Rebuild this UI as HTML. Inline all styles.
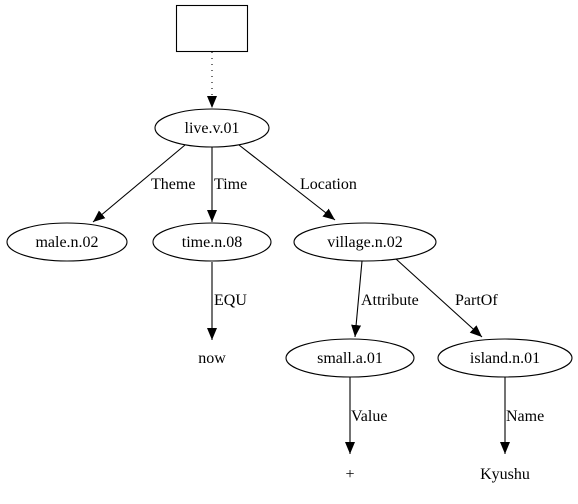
<!DOCTYPE html>
<html><head><style>body{margin:0;background:#fff}svg{display:block}text{font-family:"Liberation Serif",serif;font-size:16px}</style></head>
<body>
<svg width="578" height="504" viewBox="0 0 578 504" xmlns="http://www.w3.org/2000/svg">
<defs><marker id="a" markerWidth="13" markerHeight="12" refX="12" refY="6" orient="auto" markerUnits="userSpaceOnUse"><path d="M0,1 L12,6 L0,11 Z" fill="#000"/></marker></defs>
<g fill="none" stroke="#000" stroke-width="1.1">
<rect x="176.5" y="5.5" width="71" height="46"/>
<line x1="212" y1="52" x2="212" y2="108" stroke-dasharray="1,5" marker-end="url(#a)"/>
<ellipse cx="212" cy="128" rx="57" ry="19"/>
<ellipse cx="67" cy="242" rx="60" ry="19"/>
<ellipse cx="212" cy="242" rx="59" ry="19"/>
<ellipse cx="365" cy="242" rx="71" ry="19"/>
<ellipse cx="350" cy="358" rx="64" ry="19"/>
<ellipse cx="505" cy="358" rx="67" ry="19"/>
<line x1="185" y1="145" x2="93" y2="222" marker-end="url(#a)"/>
<line x1="212" y1="147" x2="212" y2="222" marker-end="url(#a)"/>
<line x1="239" y1="145" x2="335" y2="220" marker-end="url(#a)"/>
<line x1="212" y1="262" x2="212" y2="340" marker-end="url(#a)"/>
<line x1="362" y1="261" x2="355" y2="337" marker-end="url(#a)"/>
<line x1="396" y1="259" x2="482" y2="337" marker-end="url(#a)"/>
<line x1="350" y1="377" x2="350" y2="454" marker-end="url(#a)"/>
<line x1="505" y1="377" x2="505" y2="454" marker-end="url(#a)"/>
</g>
<g text-anchor="middle">
<text x="212" y="133">live.v.01</text>
<text x="67" y="247">male.n.02</text>
<text x="212" y="247">time.n.08</text>
<text x="365" y="247">village.n.02</text>
<text x="350" y="363">small.a.01</text>
<text x="505" y="363">island.n.01</text>
<text x="212" y="363">now</text>
<text x="350" y="479">+</text>
<text x="505" y="479">Kyushu</text>
</g>
<g>
<text x="151" y="189">Theme</text>
<text x="214" y="189">Time</text>
<text x="300" y="189">Location</text>
<text x="214" y="305">EQU</text>
<text x="361" y="305">Attribute</text>
<text x="455" y="305">PartOf</text>
<text x="351" y="421">Value</text>
<text x="506" y="421">Name</text>
</g>
</svg>
</body></html>
